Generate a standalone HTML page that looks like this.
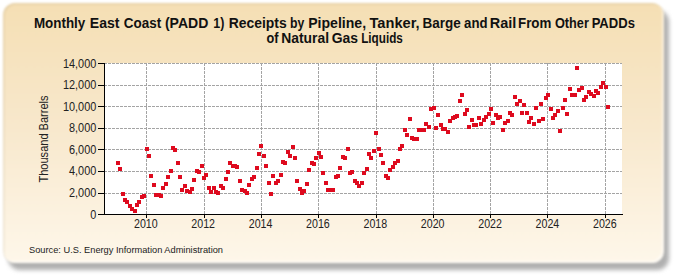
<!DOCTYPE html>
<html><head><meta charset="utf-8">
<style>
html,body{margin:0;padding:0;background:#fff;}
body{width:675px;height:275px;overflow:hidden;position:relative;font-family:"Liberation Sans",sans-serif;}
#shadow{position:absolute;left:8px;top:10px;width:661px;height:260px;border-radius:12px;background:#b0b0b0;filter:blur(2px);}
#panel{position:absolute;left:3px;top:3px;width:661px;height:260px;border-radius:12px;
 background:linear-gradient(to bottom,#f5dfb4 0%,#f8e8cc 47%,#fef7ea 100%);box-shadow:inset -2px -2px 1px rgba(255,255,255,0.5),inset 1.5px 1.5px 1px rgba(120,110,70,0.12);filter:blur(0.8px);}
svg{position:absolute;left:0;top:0;}
</style></head><body>
<div id="shadow"></div>
<div id="panel"></div>
<svg width="675" height="275" viewBox="0 0 675 275">
<rect x="104" y="63" width="518" height="151" fill="#fff"/>
<g stroke="#a4a4a4" stroke-width="1" stroke-dasharray="3 1" shape-rendering="crispEdges"><line x1="104" y1="193.5" x2="622" y2="193.5"/><line x1="104" y1="171.5" x2="622" y2="171.5"/><line x1="104" y1="149.5" x2="622" y2="149.5"/><line x1="104" y1="128.5" x2="622" y2="128.5"/><line x1="104" y1="106.5" x2="622" y2="106.5"/><line x1="104" y1="85.5" x2="622" y2="85.5"/><line x1="104" y1="63.5" x2="622" y2="63.5"/><line x1="146.5" y1="63" x2="146.5" y2="214"/><line x1="204.5" y1="63" x2="204.5" y2="214"/><line x1="261.5" y1="63" x2="261.5" y2="214"/><line x1="318.5" y1="63" x2="318.5" y2="214"/><line x1="376.5" y1="63" x2="376.5" y2="214"/><line x1="433.5" y1="63" x2="433.5" y2="214"/><line x1="490.5" y1="63" x2="490.5" y2="214"/><line x1="547.5" y1="63" x2="547.5" y2="214"/><line x1="605.5" y1="63" x2="605.5" y2="214"/></g>
<g fill="#de0a1e" shape-rendering="crispEdges"><rect x="116" y="161" width="4" height="4"/><rect x="118" y="167" width="4" height="4"/><rect x="121" y="192" width="4" height="4"/><rect x="123" y="198" width="4" height="4"/><rect x="125" y="200" width="4" height="4"/><rect x="128" y="204" width="4" height="4"/><rect x="130" y="207" width="4" height="4"/><rect x="133" y="209" width="4" height="4"/><rect x="135" y="203" width="4" height="4"/><rect x="137" y="200" width="4" height="4"/><rect x="140" y="195" width="4" height="4"/><rect x="142" y="194" width="4" height="4"/><rect x="145" y="147" width="4" height="4"/><rect x="147" y="154" width="4" height="4"/><rect x="149" y="174" width="4" height="4"/><rect x="152" y="183" width="4" height="4"/><rect x="154" y="193" width="4" height="4"/><rect x="157" y="193" width="4" height="4"/><rect x="159" y="194" width="4" height="4"/><rect x="161" y="186" width="4" height="4"/><rect x="164" y="182" width="4" height="4"/><rect x="166" y="175" width="4" height="4"/><rect x="169" y="169" width="4" height="4"/><rect x="171" y="146" width="4" height="4"/><rect x="173" y="148" width="4" height="4"/><rect x="176" y="161" width="4" height="4"/><rect x="178" y="175" width="4" height="4"/><rect x="180" y="188" width="4" height="4"/><rect x="183" y="184" width="4" height="4"/><rect x="185" y="189" width="4" height="4"/><rect x="188" y="190" width="4" height="4"/><rect x="190" y="187" width="4" height="4"/><rect x="192" y="178" width="4" height="4"/><rect x="195" y="169" width="4" height="4"/><rect x="197" y="170" width="4" height="4"/><rect x="200" y="164" width="4" height="4"/><rect x="202" y="176" width="4" height="4"/><rect x="204" y="173" width="4" height="4"/><rect x="207" y="186" width="4" height="4"/><rect x="209" y="190" width="4" height="4"/><rect x="212" y="186" width="4" height="4"/><rect x="214" y="190" width="4" height="4"/><rect x="216" y="191" width="4" height="4"/><rect x="219" y="184" width="4" height="4"/><rect x="221" y="186" width="4" height="4"/><rect x="224" y="177" width="4" height="4"/><rect x="226" y="170" width="4" height="4"/><rect x="228" y="161" width="4" height="4"/><rect x="231" y="164" width="4" height="4"/><rect x="233" y="164" width="4" height="4"/><rect x="235" y="165" width="4" height="4"/><rect x="238" y="179" width="4" height="4"/><rect x="240" y="188" width="4" height="4"/><rect x="243" y="189" width="4" height="4"/><rect x="245" y="191" width="4" height="4"/><rect x="247" y="183" width="4" height="4"/><rect x="250" y="177" width="4" height="4"/><rect x="252" y="175" width="4" height="4"/><rect x="255" y="166" width="4" height="4"/><rect x="257" y="152" width="4" height="4"/><rect x="259" y="144" width="4" height="4"/><rect x="262" y="154" width="4" height="4"/><rect x="264" y="164" width="4" height="4"/><rect x="267" y="181" width="4" height="4"/><rect x="269" y="192" width="4" height="4"/><rect x="271" y="174" width="4" height="4"/><rect x="274" y="181" width="4" height="4"/><rect x="276" y="179" width="4" height="4"/><rect x="279" y="173" width="4" height="4"/><rect x="281" y="160" width="4" height="4"/><rect x="283" y="161" width="4" height="4"/><rect x="286" y="150" width="4" height="4"/><rect x="288" y="154" width="4" height="4"/><rect x="291" y="145" width="4" height="4"/><rect x="293" y="156" width="4" height="4"/><rect x="295" y="179" width="4" height="4"/><rect x="298" y="187" width="4" height="4"/><rect x="300" y="191" width="4" height="4"/><rect x="302" y="189" width="4" height="4"/><rect x="305" y="182" width="4" height="4"/><rect x="307" y="168" width="4" height="4"/><rect x="310" y="161" width="4" height="4"/><rect x="312" y="162" width="4" height="4"/><rect x="314" y="156" width="4" height="4"/><rect x="317" y="151" width="4" height="4"/><rect x="319" y="155" width="4" height="4"/><rect x="321" y="171" width="4" height="4"/><rect x="324" y="181" width="4" height="4"/><rect x="326" y="188" width="4" height="4"/><rect x="329" y="188" width="4" height="4"/><rect x="331" y="188" width="4" height="4"/><rect x="334" y="175" width="4" height="4"/><rect x="336" y="174" width="4" height="4"/><rect x="338" y="166" width="4" height="4"/><rect x="341" y="155" width="4" height="4"/><rect x="343" y="156" width="4" height="4"/><rect x="346" y="147" width="4" height="4"/><rect x="348" y="171" width="4" height="4"/><rect x="350" y="170" width="4" height="4"/><rect x="353" y="179" width="4" height="4"/><rect x="355" y="181" width="4" height="4"/><rect x="357" y="184" width="4" height="4"/><rect x="360" y="181" width="4" height="4"/><rect x="362" y="171" width="4" height="4"/><rect x="365" y="167" width="4" height="4"/><rect x="367" y="152" width="4" height="4"/><rect x="369" y="156" width="4" height="4"/><rect x="372" y="149" width="4" height="4"/><rect x="374" y="131" width="4" height="4"/><rect x="377" y="147" width="4" height="4"/><rect x="379" y="153" width="4" height="4"/><rect x="381" y="161" width="4" height="4"/><rect x="384" y="174" width="4" height="4"/><rect x="386" y="176" width="4" height="4"/><rect x="388" y="168" width="4" height="4"/><rect x="391" y="165" width="4" height="4"/><rect x="393" y="161" width="4" height="4"/><rect x="396" y="159" width="4" height="4"/><rect x="398" y="147" width="4" height="4"/><rect x="400" y="144" width="4" height="4"/><rect x="403" y="128" width="4" height="4"/><rect x="405" y="133" width="4" height="4"/><rect x="408" y="117" width="4" height="4"/><rect x="410" y="136" width="4" height="4"/><rect x="412" y="137" width="4" height="4"/><rect x="415" y="137" width="4" height="4"/><rect x="417" y="128" width="4" height="4"/><rect x="420" y="128" width="4" height="4"/><rect x="422" y="128" width="4" height="4"/><rect x="424" y="122" width="4" height="4"/><rect x="427" y="125" width="4" height="4"/><rect x="429" y="107" width="4" height="4"/><rect x="432" y="106" width="4" height="4"/><rect x="434" y="126" width="4" height="4"/><rect x="436" y="113" width="4" height="4"/><rect x="439" y="123" width="4" height="4"/><rect x="441" y="127" width="4" height="4"/><rect x="443" y="127" width="4" height="4"/><rect x="446" y="130" width="4" height="4"/><rect x="448" y="119" width="4" height="4"/><rect x="451" y="116" width="4" height="4"/><rect x="453" y="115" width="4" height="4"/><rect x="455" y="114" width="4" height="4"/><rect x="458" y="99" width="4" height="4"/><rect x="460" y="93" width="4" height="4"/><rect x="463" y="112" width="4" height="4"/><rect x="465" y="108" width="4" height="4"/><rect x="467" y="125" width="4" height="4"/><rect x="470" y="118" width="4" height="4"/><rect x="472" y="123" width="4" height="4"/><rect x="474" y="123" width="4" height="4"/><rect x="477" y="116" width="4" height="4"/><rect x="479" y="122" width="4" height="4"/><rect x="482" y="118" width="4" height="4"/><rect x="484" y="115" width="4" height="4"/><rect x="487" y="112" width="4" height="4"/><rect x="489" y="107" width="4" height="4"/><rect x="491" y="121" width="4" height="4"/><rect x="494" y="113" width="4" height="4"/><rect x="496" y="116" width="4" height="4"/><rect x="498" y="115" width="4" height="4"/><rect x="501" y="128" width="4" height="4"/><rect x="503" y="121" width="4" height="4"/><rect x="506" y="119" width="4" height="4"/><rect x="508" y="111" width="4" height="4"/><rect x="510" y="113" width="4" height="4"/><rect x="513" y="95" width="4" height="4"/><rect x="515" y="102" width="4" height="4"/><rect x="518" y="99" width="4" height="4"/><rect x="520" y="111" width="4" height="4"/><rect x="522" y="103" width="4" height="4"/><rect x="525" y="111" width="4" height="4"/><rect x="527" y="120" width="4" height="4"/><rect x="529" y="116" width="4" height="4"/><rect x="532" y="122" width="4" height="4"/><rect x="534" y="106" width="4" height="4"/><rect x="537" y="119" width="4" height="4"/><rect x="539" y="102" width="4" height="4"/><rect x="541" y="117" width="4" height="4"/><rect x="544" y="96" width="4" height="4"/><rect x="546" y="93" width="4" height="4"/><rect x="549" y="107" width="4" height="4"/><rect x="551" y="116" width="4" height="4"/><rect x="553" y="113" width="4" height="4"/><rect x="556" y="109" width="4" height="4"/><rect x="558" y="129" width="4" height="4"/><rect x="561" y="106" width="4" height="4"/><rect x="563" y="98" width="4" height="4"/><rect x="565" y="112" width="4" height="4"/><rect x="568" y="87" width="4" height="4"/><rect x="570" y="93" width="4" height="4"/><rect x="573" y="93" width="4" height="4"/><rect x="575" y="66" width="4" height="4"/><rect x="577" y="88" width="4" height="4"/><rect x="580" y="86" width="4" height="4"/><rect x="582" y="98" width="4" height="4"/><rect x="584" y="95" width="4" height="4"/><rect x="587" y="90" width="4" height="4"/><rect x="589" y="92" width="4" height="4"/><rect x="592" y="94" width="4" height="4"/><rect x="594" y="89" width="4" height="4"/><rect x="596" y="91" width="4" height="4"/><rect x="599" y="85" width="4" height="4"/><rect x="601" y="81" width="4" height="4"/><rect x="604" y="85" width="4" height="4"/><rect x="606" y="105" width="4" height="4"/></g>
<g stroke="#000" stroke-width="1" shape-rendering="crispEdges">
<line x1="104.5" y1="63" x2="104.5" y2="215"/>
<line x1="98" y1="214.5" x2="623" y2="214.5"/>
<line x1="98" y1="214.5" x2="104" y2="214.5"/><line x1="98" y1="193.5" x2="104" y2="193.5"/><line x1="98" y1="171.5" x2="104" y2="171.5"/><line x1="98" y1="149.5" x2="104" y2="149.5"/><line x1="98" y1="128.5" x2="104" y2="128.5"/><line x1="98" y1="106.5" x2="104" y2="106.5"/><line x1="98" y1="85.5" x2="104" y2="85.5"/><line x1="98" y1="63.5" x2="104" y2="63.5"/><line x1="146.5" y1="214" x2="146.5" y2="218"/><line x1="204.5" y1="214" x2="204.5" y2="218"/><line x1="261.5" y1="214" x2="261.5" y2="218"/><line x1="318.5" y1="214" x2="318.5" y2="218"/><line x1="376.5" y1="214" x2="376.5" y2="218"/><line x1="433.5" y1="214" x2="433.5" y2="218"/><line x1="490.5" y1="214" x2="490.5" y2="218"/><line x1="547.5" y1="214" x2="547.5" y2="218"/><line x1="605.5" y1="214" x2="605.5" y2="218"/>
</g>
<g font-family="Liberation Sans" font-size="13" fill="#222"><text transform="translate(96.3,218.50) scale(0.84,1)" text-anchor="end">0</text><text transform="translate(96.3,196.93) scale(0.84,1)" text-anchor="end">2,000</text><text transform="translate(96.3,175.36) scale(0.84,1)" text-anchor="end">4,000</text><text transform="translate(96.3,153.79) scale(0.84,1)" text-anchor="end">6,000</text><text transform="translate(96.3,132.21) scale(0.84,1)" text-anchor="end">8,000</text><text transform="translate(96.3,110.64) scale(0.84,1)" text-anchor="end">10,000</text><text transform="translate(96.3,89.07) scale(0.84,1)" text-anchor="end">12,000</text><text transform="translate(96.3,67.50) scale(0.84,1)" text-anchor="end">14,000</text><text transform="translate(145.80,228) scale(0.82,1)" text-anchor="middle">2010</text><text transform="translate(203.18,228) scale(0.82,1)" text-anchor="middle">2012</text><text transform="translate(260.55,228) scale(0.82,1)" text-anchor="middle">2014</text><text transform="translate(317.93,228) scale(0.82,1)" text-anchor="middle">2016</text><text transform="translate(375.30,228) scale(0.82,1)" text-anchor="middle">2018</text><text transform="translate(432.68,228) scale(0.82,1)" text-anchor="middle">2020</text><text transform="translate(490.05,228) scale(0.82,1)" text-anchor="middle">2022</text><text transform="translate(547.42,228) scale(0.82,1)" text-anchor="middle">2024</text><text transform="translate(604.80,228) scale(0.82,1)" text-anchor="middle">2026</text></g>
<g font-family="Liberation Sans" font-size="15" font-weight="bold" fill="#111">
<text transform="translate(33.90,28) scale(0.895,1)">Monthly</text><text transform="translate(89.76,28) scale(0.938,1)">East</text><text transform="translate(123.86,28) scale(0.897,1)">Coast</text><text transform="translate(164.95,28) scale(0.936,1)">(PADD</text><text transform="translate(213.36,28) scale(0.828,1)">1)</text><text transform="translate(228.67,28) scale(0.928,1)">Receipts</text><text transform="translate(290.08,28) scale(0.817,1)">by</text><text transform="translate(308.16,28) scale(0.940,1)">Pipeline,</text><text transform="translate(369.50,28) scale(0.976,1)">Tanker,</text><text transform="translate(422.60,28) scale(0.900,1)">Barge</text><text transform="translate(464.05,28) scale(0.881,1)">and</text><text transform="translate(489.74,28) scale(0.965,1)">Rail</text><text transform="translate(518.01,28) scale(0.890,1)">From</text><text transform="translate(554.89,28) scale(0.849,1)">Other</text><text transform="translate(591.63,28) scale(0.871,1)">PADDs</text>
<text transform="translate(266.49,43) scale(0.846,1)">of</text><text transform="translate(281.27,43) scale(0.925,1)">Natural</text><text transform="translate(331.64,43) scale(0.930,1)">Gas</text><text transform="translate(361.22,43) scale(0.781,1)">Liquids</text>
</g>
<text transform="translate(48,139) rotate(-90)" font-family="Liberation Sans" font-size="12" fill="#222" text-anchor="middle" textLength="87" lengthAdjust="spacingAndGlyphs">Thousand Barrels</text>
<text x="29" y="253" font-family="Liberation Sans" font-size="9.6" fill="#222" textLength="194" lengthAdjust="spacingAndGlyphs">Source: U.S. Energy Information Administration</text>
</svg>
</body></html>
